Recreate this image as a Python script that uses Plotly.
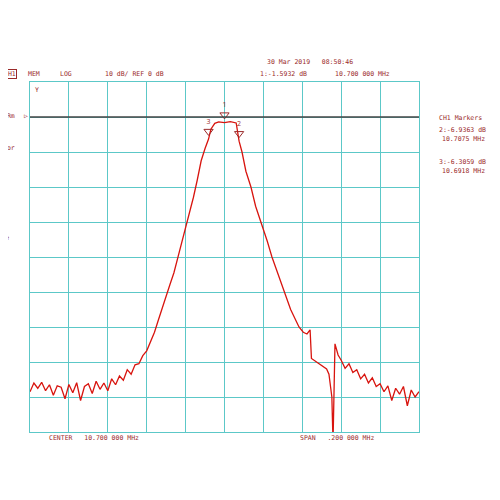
import plotly.graph_objects as go

# trace, MHz / dB
freq = [10.600, 10.602, 10.604, 10.606, 10.608, 10.610, 10.612, 10.614, 10.616, 10.618,
        10.620, 10.622, 10.624, 10.626, 10.628, 10.630, 10.632, 10.634, 10.636, 10.638,
        10.640, 10.642, 10.644, 10.646, 10.648, 10.650, 10.652, 10.654, 10.656, 10.658,
        10.660, 10.662, 10.664, 10.666, 10.668, 10.670, 10.672, 10.674, 10.676, 10.678,
        10.680, 10.682, 10.684, 10.686, 10.688, 10.690, 10.6918, 10.693, 10.695, 10.697,
        10.700, 10.703, 10.706, 10.7075, 10.709, 10.711, 10.7136, 10.716, 10.7188, 10.722,
        10.7244, 10.7275, 10.7306, 10.734, 10.7383, 10.7405, 10.7424, 10.744, 10.7447, 10.746,
        10.748, 10.7496, 10.751, 10.7525, 10.7537, 10.7552, 10.7558, 10.7563, 10.7568, 10.7584,
        10.760, 10.762, 10.764, 10.766, 10.768, 10.770, 10.772, 10.774, 10.776, 10.778,
        10.780, 10.782, 10.784, 10.786, 10.788, 10.790, 10.792, 10.794, 10.796, 10.798, 10.800]
level = [-78.5, -76.0, -77.5, -75.8, -78.2, -76.5, -79.5, -76.8, -77.2, -80.5,
         -76.4, -78.8, -75.9, -81.0, -77.0, -76.2, -79.0, -75.5, -77.8, -76.0,
         -78.2, -74.8, -76.5, -74.0, -75.2, -72.2, -73.5, -70.8, -70.5, -68.2,
         -66.8, -64.0, -61.5, -58.0, -54.8, -51.5, -47.8, -44.5, -40.2, -36.0,
         -32.0, -27.5, -23.0, -18.0, -12.5, -9.0, -6.3, -3.5, -1.8, -1.4,
         -1.6, -1.3, -1.7, -6.9, -10.0, -15.5, -20.0, -25.5, -30.0, -35.5,
         -40.0, -45.0, -50.0, -55.0, -60.0, -61.5, -62.0, -60.8, -69.0, -69.5,
         -70.2, -70.8, -71.5, -72.0, -73.5, -80.0, -93.0, -78.0, -64.8, -68.0,
         -69.5, -71.8, -70.5, -73.0, -72.2, -74.8, -73.5, -76.0, -74.5, -77.0,
         -76.2, -78.5, -76.8, -81.0, -77.5, -79.2, -77.0, -82.5, -78.0, -80.0, -78.5]

# markers
marker_num = ["1", "2", "3"]
marker_freq = [10.700, 10.7075, 10.6918]
marker_db = [-1.5932, -6.9363, -6.3059]

ink = "#9a2a2a"
grid = "#5cc8c8"

fig = go.Figure()
fig.add_trace(go.Scatter(x=freq, y=level, mode="lines",
                         line=dict(color="#d8140e", width=1.3)))
fig.add_trace(go.Scatter(x=marker_freq, y=[v + 2.2 for v in marker_db],
                         mode="markers+text", text=marker_num, textposition="top center",
                         textfont=dict(size=7, color=ink),
                         marker=dict(symbol="triangle-down-open", size=8, color=ink)))

fig.add_hline(y=0, line=dict(color="#444", width=1.5))


def px(x, y):
    # screen pixels -> paper coords
    return (x - 29) / 389, (432 - y) / 350


labels = [
    (265, 62, "30 Mar 2019   08:50:46"),
    (2, 74, "CH1"), (26, 74, "MEM"), (58, 74, "LOG"), (103, 74, "10 dB/ REF 0 dB"),
    (258, 74, "1:-1.5932 dB"), (333, 74, "10.700 000 MHz"),
    (33, 90, "Y"), (2, 103, "*"), (1, 116, "PRm"), (22, 116, "▷"), (1, 148, "Cor"),
    (4, 238, "↑"),
    (437, 118, "CH1 Markers"), (437, 130, "2:-6.9363 dB"), (440, 139, "10.7075 MHz"),
    (437, 162, "3:-6.3059 dB"), (440, 171, "10.6918 MHz"),
    (47, 438, "CENTER   10.700 000 MHz"), (298, 438, "SPAN   .200 000 MHz"),
]
for x, y, t in labels:
    xp, yp = px(x, y)
    fig.add_annotation(x=xp, y=yp, xref="paper", yref="paper", text=t, showarrow=False,
                       xanchor="left", yanchor="middle",
                       font=dict(family="DejaVu Sans Mono", size=6.5, color=ink),
                       bordercolor=ink if t == "CH1" else None, borderpad=0)

fig.update_xaxes(range=[10.6, 10.8], dtick=0.02, showgrid=True, gridcolor=grid, gridwidth=1.2,
                 showticklabels=False, zeroline=False, showline=True, linecolor=grid,
                 linewidth=1.2, mirror=True, ticks="")
fig.update_yaxes(range=[-90, 10], dtick=10, showgrid=True, gridcolor=grid, gridwidth=1.2,
                 showticklabels=False, zeroline=False, showline=True, linecolor=grid,
                 linewidth=1.2, mirror=True, ticks="")
# page body adds ~8px, so margins are pulled in to land the grid where the screen has it
fig.update_layout(width=500, height=500, showlegend=False,
                  plot_bgcolor="white", paper_bgcolor="white",
                  margin=dict(l=22, r=89, t=74, b=76))

fig.write_html("out.html")
